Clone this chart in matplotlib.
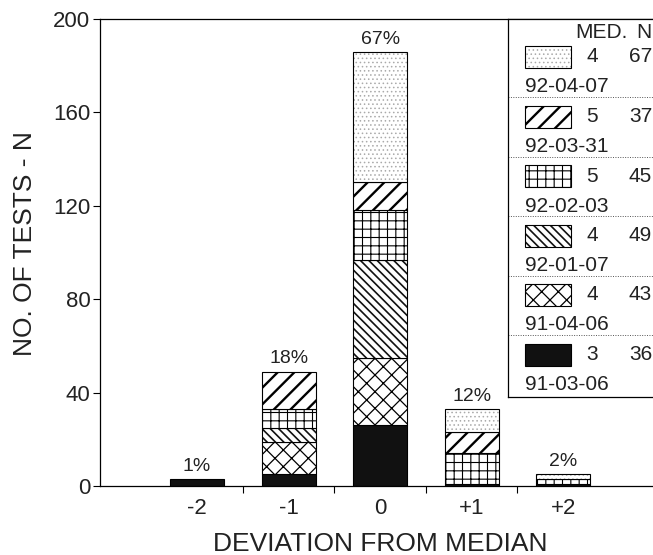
import matplotlib as mpl
import matplotlib.pyplot as plt
from matplotlib.patches import Rectangle
import numpy as np

plt.rcParams['font.family'] = ['Liberation Sans', 'DejaVu Sans']

# categories and stacked segment values (bottom -> top)
categories = ['-2', '-1', '0', '+1', '+2']
pct_labels = ['1%', '18%', '67%', '12%', '2%']

s_910306 = [3, 5, 26, 1, 1]     # solid black
s_910406 = [0, 14, 29, 0, 0]    # cross hatch
s_920107 = [0, 6, 42, 0, 0]     # dense back-slash
s_920203 = [0, 8, 21, 13, 2]    # grid
s_920331 = [0, 16, 12, 9, 0]    # forward hatch
s_920407 = [0, 0, 56, 10, 2]    # dots

series = [s_910306, s_910406, s_920107, s_920203, s_920331, s_920407]
dates = ['91-03-06', '91-04-06', '92-01-07', '92-02-03', '92-03-31', '92-04-07']
medians = ['3', '4', '4', '5', '5', '4']
counts = ['36', '43', '49', '45', '37', '67']

# style per series: (facecolor, hatch, hatch colour, hatch linewidth)
styles = [
    ('#111111', None, 'black', 1.0),
    ('white', 'xx', 'black', 0.9),
    ('white', '\\\\\\\\', '#111111', 1.2),
    ('white', '++', 'black', 0.8),
    ('white', '//', 'black', 1.7),
    ('white', '....', '#aaaaaa', 0.6),
]

W, H = 653, 555
fig = plt.figure(figsize=(W / 100, H / 100), dpi=100)
ax = fig.add_axes([100 / W, (H - 486) / H, (W - 100) / W, (486 - 19) / H])

x = np.arange(len(categories))
bw = 0.59
bottom = np.zeros(len(categories))


def draw_seg(axis, xs, hs, bots, st):
    fc, hatch, hc, hlw = st
    with mpl.rc_context({'hatch.linewidth': hlw}):
        if hatch is None:
            axis.bar(xs, hs, bw, bottom=bots, color=fc, edgecolor='black', linewidth=0.8)
        else:
            axis.bar(xs, hs, bw, bottom=bots, color='white', edgecolor=hc,
                     hatch=hatch, linewidth=0)
            axis.bar(xs, hs, bw, bottom=bots, fill=False, edgecolor='black', linewidth=0.8)


for vals, st in zip(series, styles):
    vals = np.array(vals, dtype=float)
    m = vals > 0
    draw_seg(ax, x[m], vals[m], bottom[m], st)
    bottom += vals

for xi, tot, lab in zip(x, bottom, pct_labels):
    ax.annotate(lab, xy=(xi, tot), xytext=(0, 3), textcoords='offset points',
                ha='center', va='bottom', fontsize=14, color='#222222')

ax.set_xlim(-1.06, 4.98)
ax.set_ylim(0, 200)
ax.set_yticks(np.arange(0, 201, 40))
ax.set_xticks(x)
ax.set_xticklabels(categories)
ax.set_xticks(x[:-1] + 0.5, minor=True)
ax.tick_params(axis='x', which='major', length=0, pad=9, labelsize=16, labelcolor='#222222')
ax.tick_params(axis='x', which='minor', length=5, width=0.8, direction='out')
ax.tick_params(axis='y', length=5, width=0.8, direction='out', pad=2, labelsize=16,
               labelcolor='#222222')
ax.spines['right'].set_visible(False)
for sp in ['left', 'bottom', 'top']:
    ax.spines[sp].set_linewidth(0.9)

ax.set_xlabel('DEVIATION FROM MEDIAN', fontsize=19, color='#222222', va='center')
ax.xaxis.set_label_coords(0.506, -0.124)
ax.set_ylabel('NO. OF TESTS - N', fontsize=19, color='#222222', va='center')
ax.yaxis.set_label_coords(-0.136, 0.52)

# legend panel, drawn in pixel units
lx0, ly0, ly1 = 508, 19, 397
lax = fig.add_axes([lx0 / W, (H - ly1) / H, (W - lx0) / W, (ly1 - ly0) / H])
lax.set_xlim(lx0, W)
lax.set_ylim(ly1, ly0)
lax.set_xticks([])
lax.set_yticks([])
lax.spines['right'].set_visible(False)
for sp in ['left', 'bottom', 'top']:
    lax.spines[sp].set_linewidth(0.9)

lax.text(575, 33, 'MED.', fontsize=15, ha='left', va='center', color='#222222')
lax.text(652, 33, 'N', fontsize=15, ha='right', va='center', color='#222222')

step = 59.5
order = list(range(len(series)))[::-1]
for k, i in enumerate(order):
    top = 46 + step * k
    fc, hatch, hc, hlw = styles[i]
    with mpl.rc_context({'hatch.linewidth': hlw}):
        if hatch is None:
            lax.add_patch(Rectangle((525, top), 46, 22, facecolor=fc, edgecolor='black', lw=0.8))
        else:
            lax.add_patch(Rectangle((525, top), 46, 22, facecolor='white', edgecolor=hc,
                                    hatch=hatch, lw=0))
            lax.add_patch(Rectangle((525, top), 46, 22, fill=False, edgecolor='black', lw=0.8))
    lax.text(592, top + 11, medians[i], fontsize=15, ha='center', va='center', color='#222222')
    lax.text(652, top + 11, counts[i], fontsize=15, ha='right', va='center', color='#222222')
    lax.text(525, 87 + step * k, dates[i], fontsize=15, ha='left', va='center', color='#222222')
    if k < len(order) - 1:
        lax.plot([lx0, W], [97 + step * k] * 2, color='#555555', lw=0.7, ls=(0, (1, 1.5)))

fig.savefig('out.png', dpi=100)
